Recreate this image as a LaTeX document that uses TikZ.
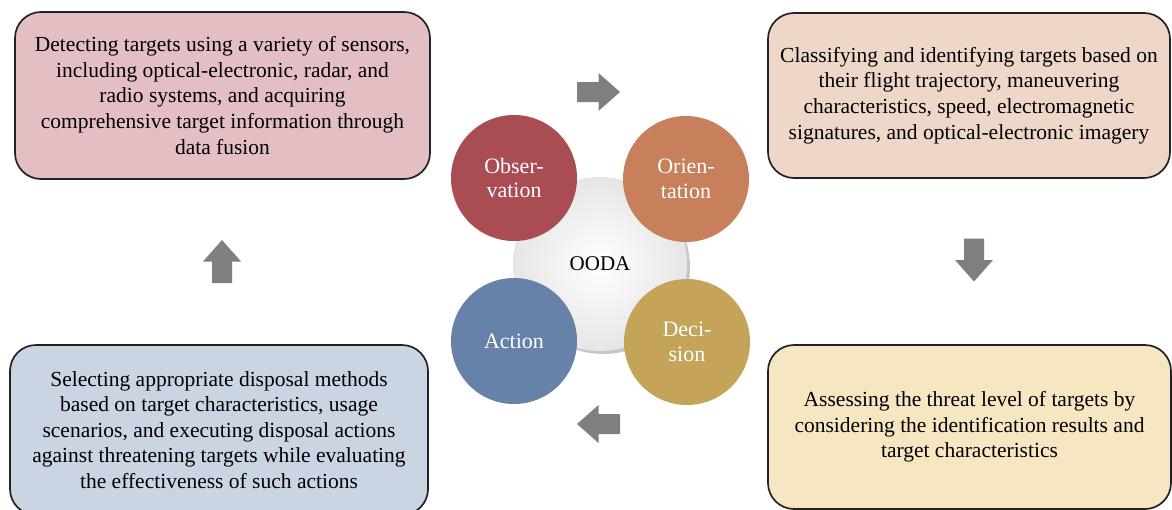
\documentclass[tikz,border=0pt]{standalone}
\usepackage{fontspec}
\setmainfont{Liberation Serif}
\usetikzlibrary{shadows}
\definecolor{boxTL}{HTML}{E3BFC4}
\definecolor{boxTR}{HTML}{EED6C9}
\definecolor{boxBL}{HTML}{CAD4E3}
\definecolor{boxBR}{HTML}{F6E6C2}
\definecolor{cObs}{HTML}{A94C53}
\definecolor{cOri}{HTML}{C77F5C}
\definecolor{cAct}{HTML}{6781A9}
\definecolor{cDec}{HTML}{C4A459}
\definecolor{arrowgray}{HTML}{7F7F80}
\definecolor{edgedark}{HTML}{222222}
\tikzset{
  infobox/.style={draw=edgedark, line width=1.7pt, rounded corners=26pt, align=center,
    font=\fontsize{21.5}{25.6}\selectfont, inner sep=0pt},
  phase/.style={circle, minimum size=126pt, inner sep=0pt, align=center, text=white,
    font=\fontsize{22}{24.5}\selectfont},
  barrow/.pic={\fill[arrowgray] (-21.5,-10) -- (0,-10) -- (0,-19) -- (21.5,0) -- (0,19) -- (0,10) -- (-21.5,10) -- cycle;}
}
\begin{document}
\begin{tikzpicture}[x=1pt,y=-1pt]
\useasboundingbox (0,0) rectangle (1172,509);
% info boxes
\node[infobox, fill=boxTL, minimum width=415pt, minimum height=167pt] (tl) at (222.5,95.5)
  {Detecting targets using a variety of sensors,\\including optical-electronic, radar, and\\radio systems, and acquiring\\comprehensive target information through\\data fusion};
\node[infobox, fill=boxTR, minimum width=402pt, minimum height=165pt] (tr) at (969,95.5)
  {Classifying and identifying targets based on\\their flight trajectory, maneuvering\\characteristics, speed, electromagnetic\\signatures, and optical-electronic imagery};
\node[infobox, fill=boxBL, minimum width=418pt, minimum height=170pt] (bl) at (219,430)
  {Selecting appropriate disposal methods\\based on target characteristics, usage\\scenarios, and executing disposal actions\\against threatening targets while evaluating\\the effectiveness of such actions};
\node[infobox, fill=boxBR, minimum width=403pt, minimum height=164pt] (br) at (969.5,427)
  {Assessing the threat level of targets by\\considering the identification results and\\target characteristics};
% central circle
\node[circle, minimum size=174pt, inner sep=0pt, inner color=white, outer color=black!10,
  drop shadow={shadow xshift=3pt, shadow yshift=-3pt, opacity=0.4, fill=black!55},
  font=\fontsize{21}{24}\selectfont] (ooda) at (600,264) {OODA};
% phases
\node[phase, fill=cObs] (obs) at (514,178) {Obser-\\vation};
\node[phase, fill=cOri] (ori) at (686,179) {Orien-\\tation};
\node[phase, fill=cAct] (act) at (514,341) {Action};
\node[phase, fill=cDec] (dec) at (687,342) {Deci-\\sion};
% block arrows
\pic at (598.5,92) {barrow};
\pic[rotate=-90] at (974,260) {barrow};
\pic[rotate=180] at (598.5,424) {barrow};
\pic[rotate=90] at (222,261.5) {barrow};
\end{tikzpicture}
\end{document}
